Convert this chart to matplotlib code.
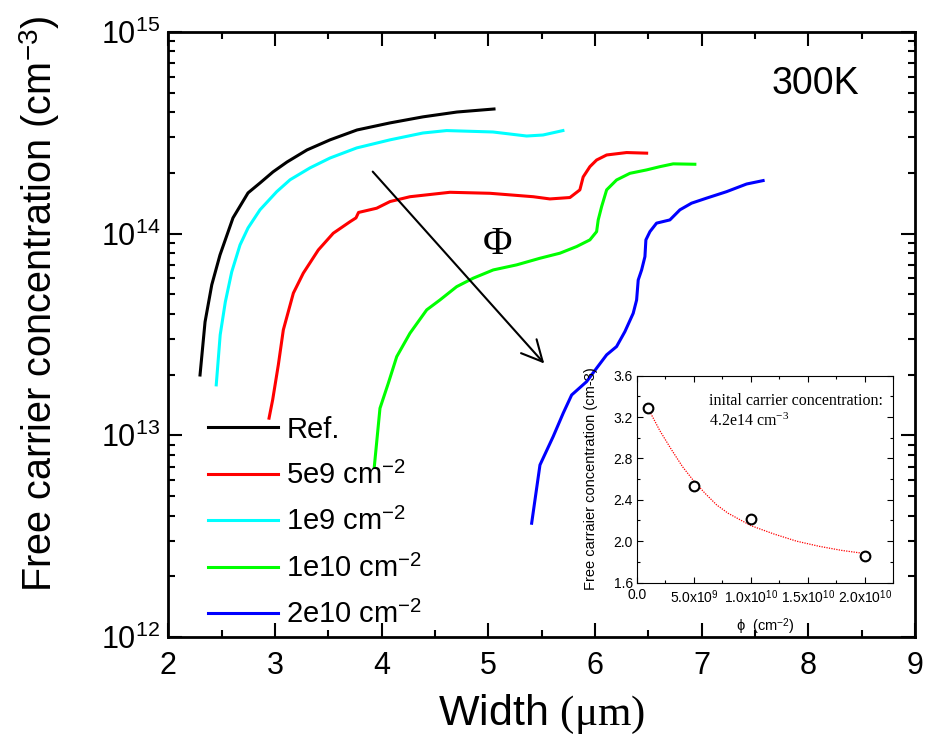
import matplotlib
matplotlib.use("Agg")
import matplotlib.pyplot as plt
import numpy as np
from matplotlib.ticker import FuncFormatter, MultipleLocator, LogLocator, NullFormatter

plt.rcParams['font.family'] = ['Liberation Sans', 'DejaVu Sans']
plt.rcParams['mathtext.fontset'] = 'custom'
plt.rcParams['mathtext.rm'] = 'Liberation Serif'
plt.rcParams['mathtext.it'] = 'Liberation Serif:italic'
plt.rcParams['mathtext.sf'] = 'Liberation Sans'

# main panel: width (um) vs log10 of free carrier concentration (cm^-3)
ref_x = [2.297, 2.344, 2.407, 2.484, 2.606, 2.747, 2.859, 2.981, 3.112, 3.300,
         3.516, 3.769, 4.078, 4.387, 4.706, 5.053]
ref_log = [13.299, 13.562, 13.746, 13.894, 14.078, 14.202, 14.251, 14.306, 14.355, 14.415,
           14.465, 14.514, 14.549, 14.579, 14.603, 14.618]

f5e9_x = [2.944, 2.978, 3.031, 3.078, 3.172, 3.265, 3.406, 3.546, 3.703, 3.759, 3.783,
          3.953, 4.078, 4.265, 4.640, 5.015, 5.421, 5.577, 5.765, 5.858, 5.889, 5.952,
          6.015, 6.109, 6.296, 6.484]
f5e9_log = [13.085, 13.176, 13.349, 13.523, 13.705, 13.804, 13.919, 14.002, 14.059, 14.078, 14.105,
            14.126, 14.159, 14.183, 14.205, 14.200, 14.183, 14.172, 14.179, 14.217, 14.281, 14.332,
            14.365, 14.390, 14.402, 14.399]

f1e9_x = [2.449, 2.486, 2.534, 2.594, 2.672, 2.747, 2.859, 3.016, 3.141, 3.328,
          3.516, 3.766, 4.078, 4.387, 4.609, 5.043, 5.359, 5.512, 5.699]
f1e9_log = [13.250, 13.498, 13.661, 13.810, 13.944, 14.028, 14.118, 14.208, 14.267, 14.326,
            14.375, 14.425, 14.465, 14.499, 14.511, 14.504, 14.484, 14.489, 14.511]

f1e10_x = [3.931, 3.984, 4.062, 4.141, 4.265, 4.422, 4.546, 4.703, 4.858, 5.046, 5.265,
           5.484, 5.671, 5.828, 5.952, 6.015, 6.030, 6.062, 6.109, 6.202, 6.327, 6.484,
           6.608, 6.733, 6.936]
f1e10_log = [12.845, 13.134, 13.258, 13.390, 13.506, 13.622, 13.671, 13.737, 13.779, 13.820, 13.845,
             13.878, 13.903, 13.936, 13.969, 14.010, 14.068, 14.134, 14.217, 14.266, 14.299, 14.316,
             14.332, 14.346, 14.344]

f2e10_x = [5.406, 5.484, 5.608, 5.702, 5.781, 5.921, 6.015, 6.109, 6.202, 6.280, 6.358,
           6.390, 6.405, 6.437, 6.468, 6.477, 6.515, 6.577, 6.702, 6.796, 6.905, 7.046,
           7.233, 7.421, 7.576]
f2e10_log = [12.564, 12.853, 12.994, 13.110, 13.200, 13.266, 13.333, 13.399, 13.440, 13.514, 13.605,
             13.671, 13.770, 13.820, 13.886, 13.969, 14.010, 14.052, 14.068, 14.118, 14.151, 14.176,
             14.208, 14.246, 14.263]

series = [
    (ref_x, ref_log, 'black', 'Ref.'),
    (f5e9_x, f5e9_log, '#ff0000', '5e9 cm$^{\\mathregular{-2}}$'),
    (f1e9_x, f1e9_log, '#00ffff', '1e9 cm$^{\\mathregular{-2}}$'),
    (f1e10_x, f1e10_log, '#00ff00', '1e10 cm$^{\\mathregular{-2}}$'),
    (f2e10_x, f2e10_log, '#0000ff', '2e10 cm$^{\\mathregular{-2}}$'),
]

# arrow and labels (data coords)
arrow_start = (3.916, 2.03e14)
arrow_end = (5.524, 2.27e13)
phi_pos = (5.087, 8.8e13)

# inset: fluence vs concentration (1e14 cm^-3)
inset_phi = [1e9, 5e9, 1e10, 2e10]
inset_conc = [3.29, 2.53, 2.21, 1.86]
fit_phi = [1e9, 2e9, 3e9, 4e9, 5e9, 6e9, 7e9, 8e9, 1e10, 1.2e10, 1.4e10, 1.6e10, 1.8e10, 2e10]
fit_conc = [3.28, 3.07, 2.89, 2.72, 2.58, 2.46, 2.35, 2.27, 2.15, 2.07, 2.00, 1.95, 1.91, 1.88]

fig = plt.figure(figsize=(9.25, 7.38), dpi=100)
ax = fig.add_axes([0.182, 0.1369, 0.8072, 0.8198])

for xs, logs, col, lab in series:
    ax.plot(xs, 10 ** np.array(logs), color=col, lw=2.2, label=lab)

ax.set_yscale('log')
ax.set_xlim(2, 9)
ax.set_ylim(1e12, 1e15)
ax.xaxis.set_major_locator(MultipleLocator(1))
ax.xaxis.set_minor_locator(MultipleLocator(0.5))
ax.yaxis.set_major_locator(LogLocator(base=10, numticks=10))
ax.yaxis.set_minor_locator(LogLocator(base=10, subs=np.arange(2, 10), numticks=20))
ax.yaxis.set_minor_formatter(NullFormatter())
ax.tick_params(which='both', direction='in', top=True, right=True, width=1.5)
ax.tick_params(which='major', length=10, labelsize=22)
ax.tick_params(which='minor', length=5)
ax.tick_params(axis='x', which='major', pad=10)
ax.tick_params(axis='y', which='major', pad=6)
for sp in ax.spines.values():
    sp.set_linewidth(2)

ax.set_xlabel(r'Width $\mathrm{(\mu m)}$', fontsize=31, labelpad=9)
ax.set_ylabel('Free carrier concentration (cm$^{\\mathregular{-3}}$)', fontsize=28.5)
ax.yaxis.set_label_coords(-0.142, 0.55)

ax.legend(loc='upper left', bbox_to_anchor=(0.037, 0.385), frameon=False, fontsize=21,
          handlelength=2.4, handletextpad=0.3, labelspacing=0.63, borderaxespad=0)

ax.annotate('', xy=arrow_end, xytext=arrow_start,
            arrowprops=dict(arrowstyle='->,head_length=0.5,head_width=0.25', lw=1.5,
                            color='black', mutation_scale=30, shrinkA=0, shrinkB=0))
ax.text(phi_pos[0], phi_pos[1], '\u03a6', fontsize=29, family='Liberation Serif',
        ha='center', va='center')
ax.text(0.866, 0.914, '300K', transform=ax.transAxes, ha='center', va='center', fontsize=27)

# inset
ins = fig.add_axes([0.6886, 0.2107, 0.2771, 0.2802])
ins.plot(fit_phi, fit_conc, color='red', lw=0.9, linestyle=(0, (1, 1)))
ins.plot(inset_phi, inset_conc, 'o', mfc='white', mec='black', ms=7, mew=1.5)
ins.set_xlim(0, 2.25e10)
ins.set_ylim(1.6, 3.6)
ins.xaxis.set_major_locator(MultipleLocator(5e9))
ins.xaxis.set_minor_locator(MultipleLocator(2.5e9))
ins.yaxis.set_major_locator(MultipleLocator(0.4))
ins.yaxis.set_minor_locator(MultipleLocator(0.2))


def sci_fmt(v, pos):
    if v <= 0:
        return '0.0'
    e = int(np.floor(np.log10(v)))
    m = v / 10 ** e
    return '%.1fx10$^{\\mathregular{%d}}$' % (m, e)


ins.xaxis.set_major_formatter(FuncFormatter(sci_fmt))
ins.yaxis.set_major_formatter(FuncFormatter(lambda v, p: '%.1f' % v))
ins.tick_params(which='both', direction='in', top=True, right=True, labelsize=10, width=0.8)
ins.tick_params(which='major', length=4)
ins.tick_params(axis='x', which='major', pad=4)
ins.tick_params(axis='y', which='major', pad=3)
ins.tick_params(which='minor', length=2)
for sp in ins.spines.values():
    sp.set_linewidth(0.8)
ins.set_xlabel('\u03d5  (cm$^{\\mathregular{-2}}$)', fontsize=10.5, labelpad=7)
ins.set_ylabel('Free carraier concentration (cm-3)', fontsize=10.5, labelpad=11)
ins.text(0.28, 0.88, 'inital carrier concentration:', transform=ins.transAxes,
         family='Liberation Serif', fontsize=11.5, va='center')
ins.text(0.28, 0.78, '4.2e14 cm$^{\\mathrm{-3}}$', transform=ins.transAxes,
         family='Liberation Serif', fontsize=11.5, va='center')

fig.savefig('out.png', dpi=100)
